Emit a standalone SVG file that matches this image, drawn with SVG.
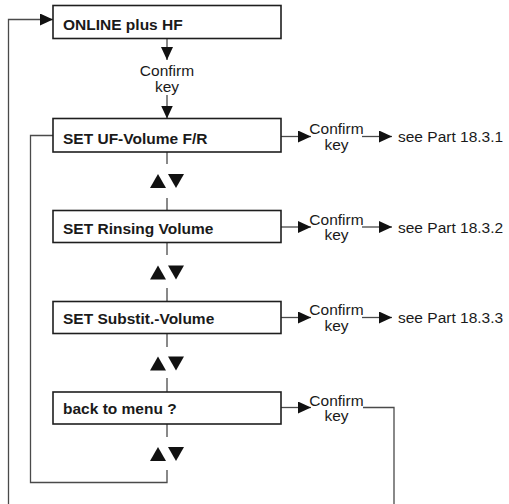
<svg xmlns="http://www.w3.org/2000/svg" width="509" height="504" viewBox="0 0 509 504">
<style>
.box{fill:#fff;stroke:#1e1e1e;stroke-width:1.6}
.bt{font-family:"Liberation Sans",Arial,sans-serif;font-size:15.5px;font-weight:bold;fill:#1a1a1a}
.t{font-family:"Liberation Sans",Arial,sans-serif;font-size:15.5px;fill:#1a1a1a}
.ln{fill:none;stroke:#4a4a4a;stroke-width:1.3}
.tri{fill:#111}
</style>
<defs>
<marker id="ah" markerUnits="userSpaceOnUse" markerWidth="14" markerHeight="12" refX="13" refY="6" orient="auto">
<path d="M0,0 L13,6 L0,12 Z" fill="#111"/>
</marker>
</defs>
<rect width="509" height="504" fill="#fff"/>
<g id="connectors">
<polyline class="ln" points="8.5,504 8.5,19.5 53,19.5" marker-end="url(#ah)"/>
<line class="ln" x1="167" y1="38.5" x2="167" y2="60" marker-end="url(#ah)"/>
<line class="ln" x1="167" y1="95" x2="167" y2="118.5" marker-end="url(#ah)"/>
<polyline class="ln" points="53,135.5 30.5,135.5 30.5,482.5 167,482.5 167,470"/>
<line class="ln" x1="167" y1="152" x2="167" y2="164"/>
<line class="ln" x1="167" y1="198" x2="167" y2="210.5"/>
<line class="ln" x1="167" y1="242.5" x2="167" y2="255"/>
<line class="ln" x1="167" y1="288" x2="167" y2="301.5"/>
<line class="ln" x1="167" y1="333.5" x2="167" y2="347"/>
<line class="ln" x1="167" y1="378" x2="167" y2="392"/>
<line class="ln" x1="167" y1="424" x2="167" y2="437"/>
<line class="ln" x1="281" y1="136.5" x2="311" y2="136.5" marker-end="url(#ah)"/>
<line class="ln" x1="362" y1="136.5" x2="392" y2="136.5" marker-end="url(#ah)"/>
<line class="ln" x1="281" y1="227" x2="311" y2="227" marker-end="url(#ah)"/>
<line class="ln" x1="362" y1="227" x2="392" y2="227" marker-end="url(#ah)"/>
<line class="ln" x1="281" y1="317.5" x2="311" y2="317.5" marker-end="url(#ah)"/>
<line class="ln" x1="362" y1="317.5" x2="392" y2="317.5" marker-end="url(#ah)"/>
<line class="ln" x1="281" y1="407.5" x2="311" y2="407.5" marker-end="url(#ah)"/>
<polyline class="ln" points="363,407.5 394,407.5 394,504"/>
</g>
<g id="updown">
<polygon class="tri" points="150,188 158,174 166,188"/>
<polygon class="tri" points="168,174 184,174 176,188"/>
<polygon class="tri" points="150,279.5 158,265.5 166,279.5"/>
<polygon class="tri" points="168,265.5 184,265.5 176,279.5"/>
<polygon class="tri" points="150,370.5 158,356.5 166,370.5"/>
<polygon class="tri" points="168,356.5 184,356.5 176,370.5"/>
<polygon class="tri" points="150,461 158,447 166,461"/>
<polygon class="tri" points="168,447 184,447 176,461"/>
</g>
<g id="n1">
<rect class="box" x="53" y="5.5" width="228" height="33"/>
<text class="bt" x="63" y="29.5">ONLINE plus HF</text>
</g>
<g id="c1">
<text class="t" x="167" y="76" text-anchor="middle">Confirm</text>
<text class="t" x="167" y="91.5" text-anchor="middle">key</text>
</g>
<g id="n2">
<rect class="box" x="53" y="118.5" width="228" height="33.5"/>
<text class="bt" x="63" y="143.5">SET UF-Volume F/R</text>
</g>
<g id="n3">
<rect class="box" x="53" y="210.5" width="228" height="32"/>
<text class="bt" x="63" y="233.5">SET Rinsing Volume</text>
</g>
<g id="n4">
<rect class="box" x="53" y="301.5" width="228" height="32"/>
<text class="bt" x="63" y="323.5">SET Substit.-Volume</text>
</g>
<g id="n5">
<rect class="box" x="53" y="392" width="228" height="32"/>
<text class="bt" x="63" y="413.5">back to menu ?</text>
</g>
<g id="c2">
<text class="t" x="336.5" y="134" text-anchor="middle">Confirm</text>
<text class="t" x="336.5" y="149.5" text-anchor="middle">key</text>
<text class="t" x="398" y="142">see Part 18.3.1</text>
</g>
<g id="c3">
<text class="t" x="336.5" y="224.5" text-anchor="middle">Confirm</text>
<text class="t" x="336.5" y="240" text-anchor="middle">key</text>
<text class="t" x="398" y="232.5">see Part 18.3.2</text>
</g>
<g id="c4">
<text class="t" x="336.5" y="315" text-anchor="middle">Confirm</text>
<text class="t" x="336.5" y="330.5" text-anchor="middle">key</text>
<text class="t" x="398" y="323">see Part 18.3.3</text>
</g>
<g id="c5">
<text class="t" x="336.5" y="405.5" text-anchor="middle">Confirm</text>
<text class="t" x="336.5" y="421" text-anchor="middle">key</text>
</g>
</svg>
